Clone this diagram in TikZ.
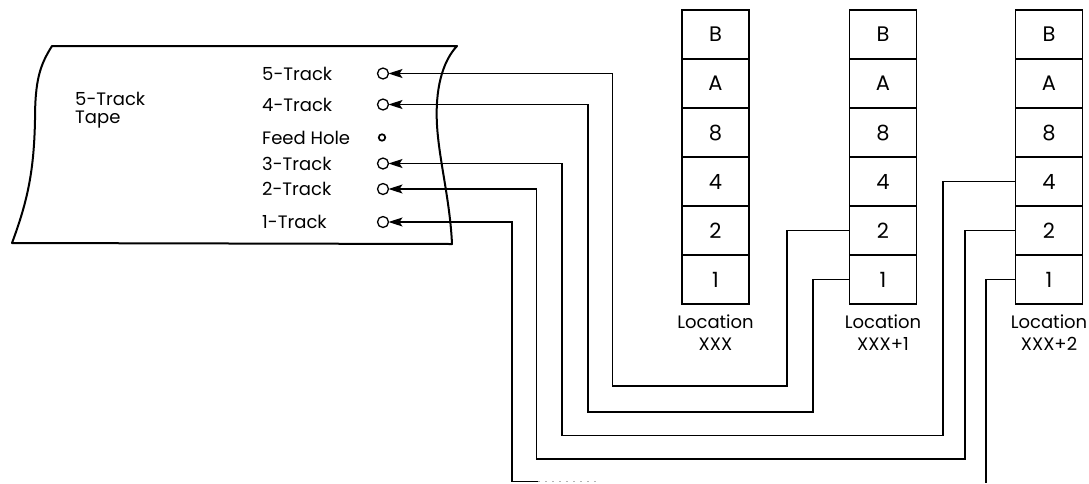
\documentclass[tikz,border=0pt]{standalone}
\usepackage{fontspec}
\setmainfont{Poppins}
\usetikzlibrary{arrows.meta}
\begin{document}
\begin{tikzpicture}[x=1pt,y=-1pt,
  wire/.style={line width=1.3pt, line join=miter},
  arr/.style={wire,-{Stealth[length=14pt,width=9pt,inset=3pt]}},
  tapeline/.style={line width=2pt, line join=round},
  hole/.style={circle,draw,line width=1.3pt,minimum size=11pt,inner sep=0pt,outer sep=0pt},
  feed/.style={circle,draw,line width=1.7pt,minimum size=6.5pt,inner sep=0pt,outer sep=0pt},
  lbl/.style={anchor=west,font=\fontsize{18}{21}\selectfont,inner sep=0pt},
  cell/.style={draw,line width=1.3pt,minimum width=67pt,minimum height=49pt,inner sep=0pt,font=\fontsize{21}{23}\selectfont},
  loc/.style={font=\fontsize{18}{21}\selectfont,inner sep=0pt}
]
\useasboundingbox (0,0) rectangle (1089,483);

% tape outline
\draw[tapeline] (52,46) -- (457,46)
  .. controls (442,62) and (435,90) .. (437,125)
  .. controls (439,160) and (450,200) .. (452,244)
  -- (12,243)
  .. controls (28,200) and (34,170) .. (35,120)
  .. controls (35,80) and (40,65) .. (52,46) -- cycle;

% tape labels
\node[lbl] (tt1) at (75,99) {5-Track};
\node[lbl] (tt2) at (75,120) {Tape};

\node[lbl] (t5) at (262,73.5) {5-Track};
\node[lbl] (t4) at (262,104.5) {4-Track};
\node[lbl] (tf) at (262,137.5) {Feed Hole};
\node[lbl] (t3) at (262,163.5) {3-Track};
\node[lbl] (t2) at (262,189) {2-Track};
\node[lbl] (t1) at (262,222) {1-Track};

% holes
\node[hole] (h5) at (383,73.5) {};
\node[hole] (h4) at (383,104.5) {};
\node[feed] (hf) at (382,137.5) {};
\node[hole] (h3) at (383,163.5) {};
\node[hole] (h2) at (383,189) {};
\node[hole] (h1) at (383,222) {};

% storage cells
\foreach \c/\x in {1/715.5,2/883,3/1049}{
  \foreach \t/\yy in {B/34.5, A/83.5, 8/132.5, 4/181.5, 2/230.5, 1/279.5}{
    \node[cell] (c\c-\t) at (\x,\yy) {\t};
  }
}

% location labels
\node[loc] (l1) at (715.5,322) {Location};
\node[loc] (x1) at (715.5,344) {XXX};
\node[loc] (l2) at (883,322) {Location};
\node[loc] (x2) at (883,344) {XXX+1};
\node[loc] (l3) at (1049,322) {Location};
\node[loc] (x3) at (1049,344) {XXX+2};

% wires
\draw[arr] (c2-2.west) -| (787,386) -| (612.5,73.5) -- (h5.east);
\draw[arr] (c2-1.west) -| (813,412) -| (588,104.5) -- (h4.east);
\draw[arr] (c3-4.west) -| (943,435.5) -| (562,163.5) -- (h3.east);
\draw[arr] (c3-2.west) -| (965,459) -| (536.5,189) -- (h2.east);

\coordinate (cutL) at (538,481.5);
\coordinate (cutR) at (986,483);
\draw[arr] (cutL) -| (512,222) -- (h1.east);
\draw[gray!60, line width=0.8pt, dash pattern=on 2pt off 5pt] (cutL) -- ++(60,0);
\draw[wire] (c3-1.west) -| (cutR);
\end{tikzpicture}
\end{document}
